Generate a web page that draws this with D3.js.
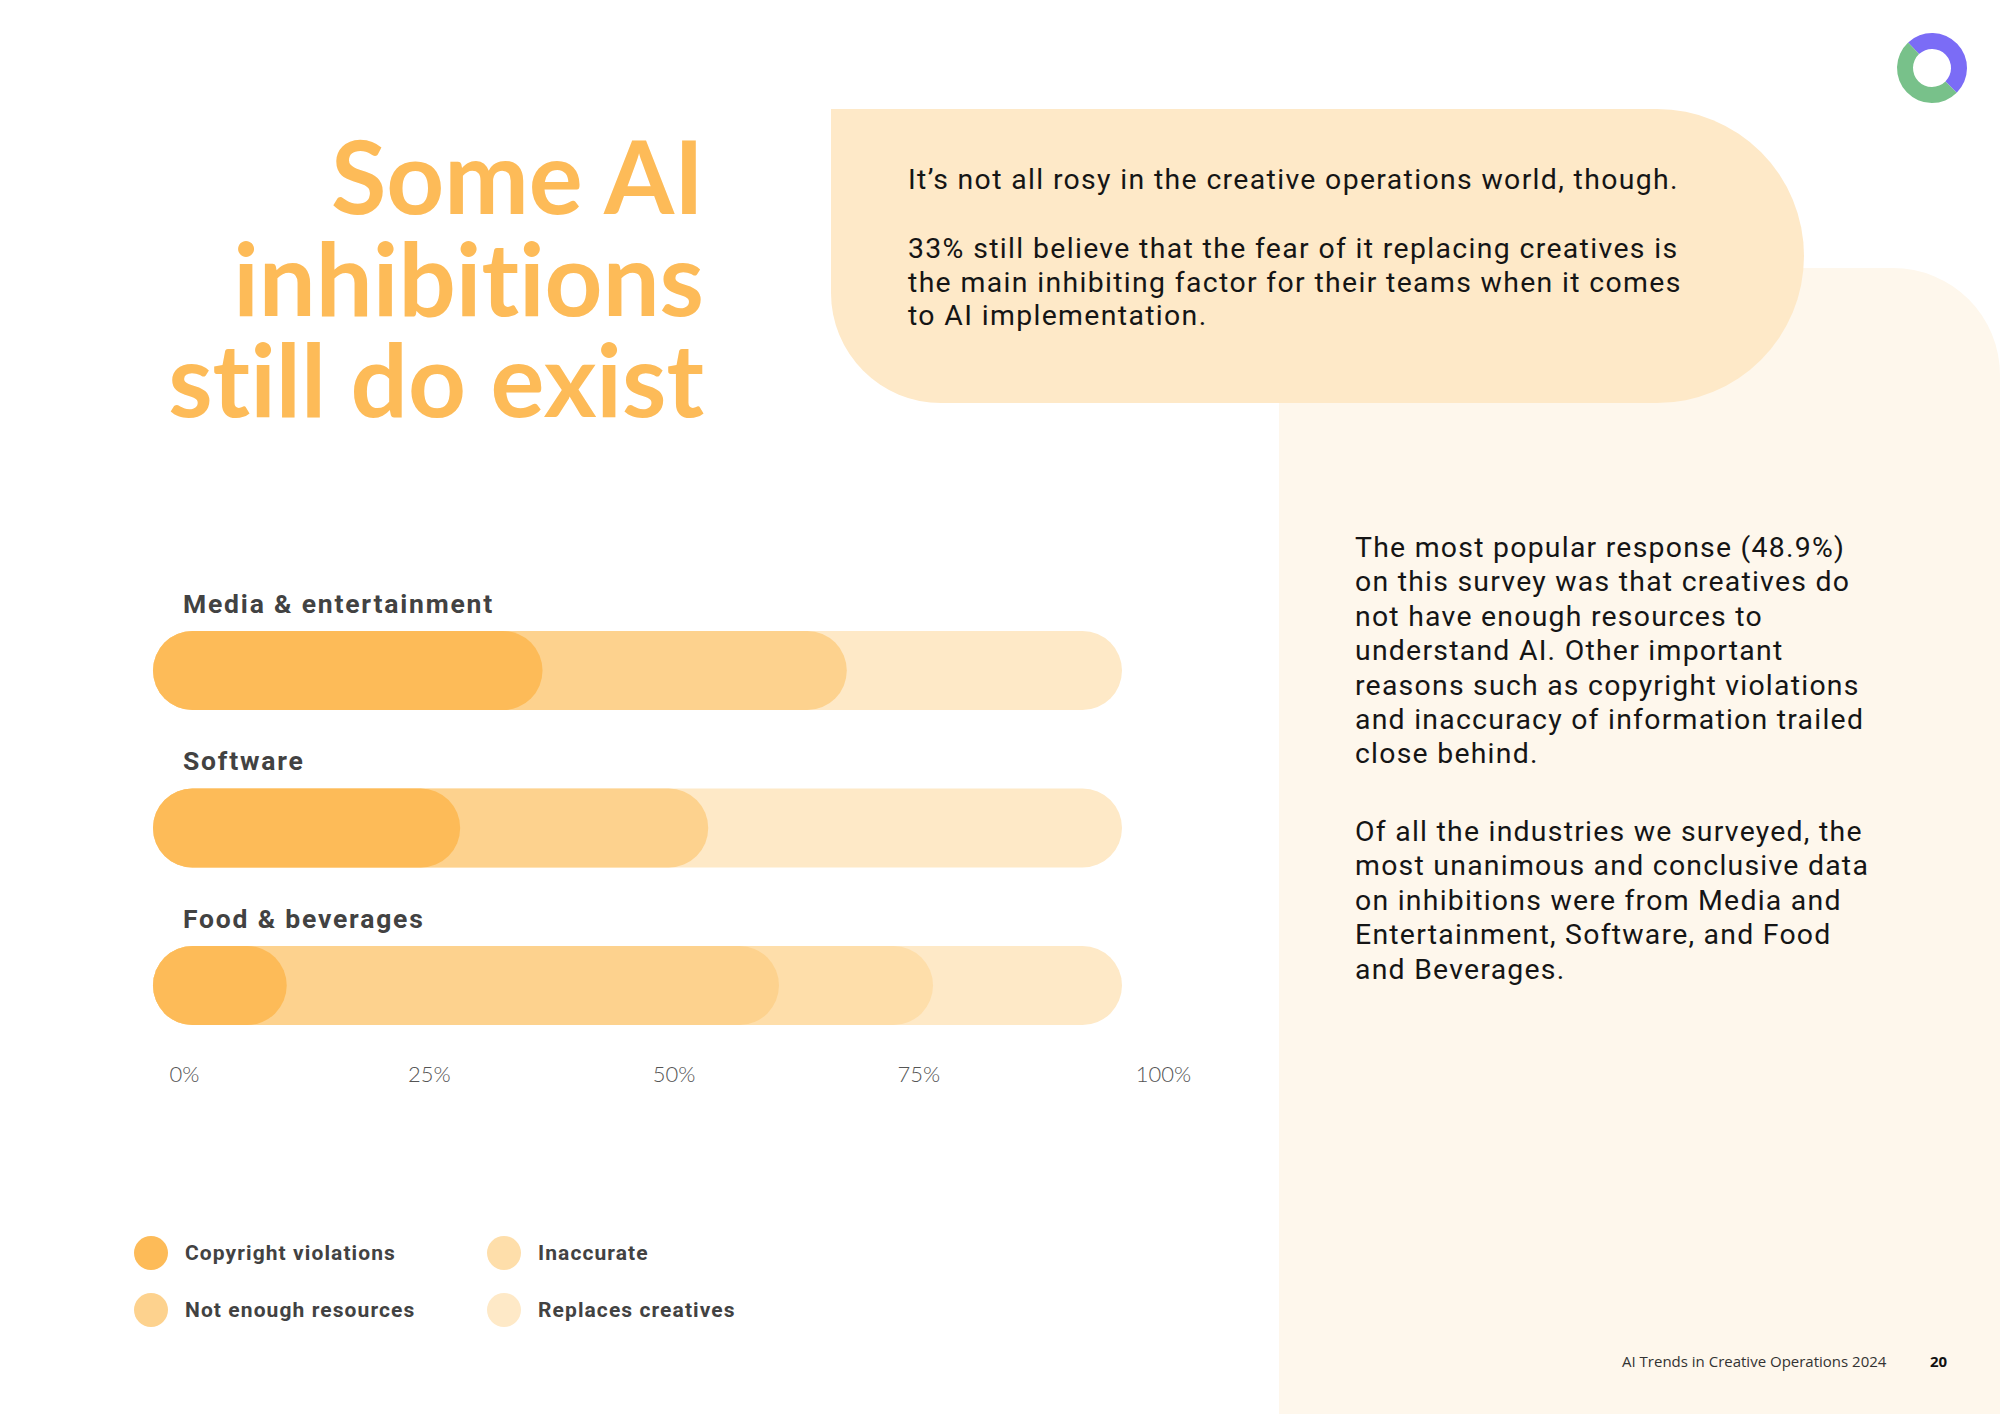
<!DOCTYPE html>
<html>
<head>
<meta charset="utf-8">
<script src="https://cdn.jsdelivr.net/npm/d3@7"></script>
<style>
  body { margin: 0; background: #fff; }
  svg { display: block; }
</style>
</head>
<body>
<div id="chart"></div>
<script>
// chart data (share of respondents, %)
const industries = ["Media & entertainment", "Software", "Food & beverages"];
const reasons = ["Copyright violations", "Not enough resources", "Inaccurate", "Replaces creatives"];
const copyright = [40.2, 31.7, 13.8];
const notEnough = [31.4, 25.6, 50.8];
const inaccurate = [0, 0, 15.9];
const replaces = [28.4, 42.7, 19.5];
const tickValues = [0, 25, 50, 75, 100];
const reasonColors = ["#fdbb58", "#fdd28e", "#fedeaa", "#fee9c7"];

const title = ["Some AI", "inhibitions", "still do exist"];
const calloutFirst = ["It’s not all rosy in the creative operations world, though."];
const calloutSecond = [
  "33% still believe that the fear of it replacing creatives is",
  "the main inhibiting factor for their teams when it comes",
  "to AI implementation."
];
const sideLines = [
  "The most popular response (48.9%)",
  "on this survey was that creatives do",
  "not have enough resources to",
  "understand AI. Other important",
  "reasons such as copyright violations",
  "and inaccuracy of information trailed",
  "close behind."
];
const sideLines2 = [
  "Of all the industries we surveyed, the",
  "most unanimous and conclusive data",
  "on inhibitions were from Media and",
  "Entertainment, Software, and Food",
  "and Beverages."
];

const W = 2000, H = 1414;
const bodyFont = "Roboto, 'Noto Sans', sans-serif";

const svg = d3.select("#chart")
  .append("svg")
  .attr("width", W)
  .attr("height", H);

// one <text> per paragraph, one <tspan> per line
function paragraph(lines, x, y, lineHeight) {
  const t = svg.append("text").attr("x", x).attr("y", y);
  t.selectAll("tspan")
    .data(lines)
    .join("tspan")
    .attr("x", x)
    .attr("y", (d, i) => y + i * lineHeight)
    .text(d => d);
  return t;
}

// spread letters so that a reference line gets the printed width
function fitSpacing(sel, refNode, target) {
  sel.style("letter-spacing", "0px");
  const w = refNode.getComputedTextLength();
  const n = refNode.textContent.length;
  sel.style("letter-spacing", ((target - w) / n).toFixed(2) + "px");
}

// background panels
svg.append("path")
  .attr("d", "M1279,268 H1893 A107,107 0 0 1 2000,375 V1414 H1279 Z")
  .attr("fill", "#fef7ec");

svg.append("path")
  .attr("d", "M831,109 H1657 A147,147 0 0 1 1657,403 H941 A110,110 0 0 1 831,293 Z")
  .attr("fill", "#fee9c8");

// logo ring
const ring = d3.arc().innerRadius(19).outerRadius(35);
const logo = svg.append("g").attr("transform", "translate(1932,68)");
logo.append("path")
  .attr("d", ring({ startAngle: -43 * Math.PI / 180, endAngle: 135 * Math.PI / 180 }))
  .attr("fill", "#7b6cf6");
logo.append("path")
  .attr("d", ring({ startAngle: 135 * Math.PI / 180, endAngle: 317 * Math.PI / 180 }))
  .attr("fill", "#78c18a");

// title
paragraph(title, 704, 214, 101.5)
  .attr("text-anchor", "end")
  .attr("fill", "#fdbb58")
  .style("font-family", "Lato, sans-serif")
  .style("font-weight", 700)
  .style("font-size", "101px")
  .style("font-variant-ligatures", "none");

// callout + side text
const c1 = paragraph(calloutFirst, 908, 189, 33.5);
const c2 = paragraph(calloutSecond, 908, 258, 33.5);
const s1 = paragraph(sideLines, 1355, 557, 34.4);
const s2 = paragraph(sideLines2, 1355, 841, 34.4);
[c1, c2, s1, s2].forEach(t => t
  .attr("fill", "#151515")
  .style("font-family", bodyFont)
  .style("font-size", "28.4px"));
fitSpacing(svg.selectAll("text").filter(function () { return this === c1.node() || this === c2.node(); }),
  c1.select("tspan").node(), 771);
fitSpacing(svg.selectAll("text").filter(function () { return this === s1.node() || this === s2.node(); }),
  s1.selectAll("tspan").nodes()[5], 509);

// bars
const rows = industries.map((name, i) => ({
  name,
  "Copyright violations": copyright[i],
  "Not enough resources": notEnough[i],
  "Inaccurate": inaccurate[i],
  "Replaces creatives": replaces[i]
}));
const series = d3.stack().keys(reasons)(rows);

const x = d3.scaleLinear().domain([0, 100]).range([153, 1122]);
const y = d3.scaleBand().domain(industries).range([631, 1025]).paddingInner(0.498).paddingOuter(0);
const color = d3.scaleOrdinal().domain(reasons).range(reasonColors);
const bh = y.bandwidth();

const chart = svg.append("g");

const labels = chart.selectAll(".label")
  .data(industries)
  .join("text")
  .attr("class", "label")
  .attr("x", 183)
  .attr("y", d => y(d) - 18)
  .attr("fill", "#424242")
  .style("font-family", bodyFont)
  .style("font-weight", 700)
  .style("font-size", "26.5px")
  .text(d => d);
fitSpacing(labels, labels.node(), 311);

// later series first, so the earlier (darker) pills sit on top
chart.selectAll(".series")
  .data(series.slice().reverse())
  .join("g")
  .attr("class", "series")
  .attr("fill", d => color(d.key))
  .selectAll("rect")
  .data(d => d)
  .join("rect")
  .attr("x", x(0))
  .attr("y", d => y(d.data.name))
  .attr("height", bh)
  .attr("width", d => d[1] - d[0] > 0 ? x(d[1]) - x(0) : 0)
  .attr("rx", bh / 2)
  .attr("ry", bh / 2);

// axis labels (the printed scale runs a little wider than the bars)
const tickX = d3.scaleLinear().domain([0, 100]).range([184, 1163]);
const axis = svg.append("g")
  .attr("transform", "translate(0,1082)")
  .call(d3.axisBottom(tickX).tickValues(tickValues).tickSize(0).tickFormat(d => d + "%"));
axis.select(".domain").remove();
axis.selectAll("text")
  .attr("y", 0)
  .attr("dy", 0)
  .attr("fill", "#555")
  .style("font-family", "Lato, sans-serif")
  .style("font-weight", 300)
  .style("font-size", "22px");

// legend
const legend = svg.append("g")
  .selectAll("g")
  .data(reasons)
  .join("g")
  .attr("transform", (d, i) => `translate(${151 + Math.floor(i / 2) * 353},${1253 + (i % 2) * 57})`);
legend.append("circle")
  .attr("r", 17)
  .attr("fill", d => color(d));
const legendText = legend.append("text")
  .attr("x", 34)
  .attr("y", 7)
  .attr("fill", "#424242")
  .style("font-family", bodyFont)
  .style("font-weight", 700)
  .style("font-size", "21px")
  .text(d => d);
fitSpacing(legendText, legendText.node(), 211);

// footer
svg.append("text")
  .attr("x", 1622)
  .attr("y", 1367)
  .attr("fill", "#333")
  .style("font-family", "'Open Sans', sans-serif")
  .style("font-size", "15px")
  .text("AI Trends in Creative Operations 2024");
svg.append("text")
  .attr("x", 1930)
  .attr("y", 1367)
  .attr("fill", "#111")
  .style("font-family", "'Open Sans', sans-serif")
  .style("font-weight", 700)
  .style("font-size", "15px")
  .text("20");
</script>
</body>
</html>
